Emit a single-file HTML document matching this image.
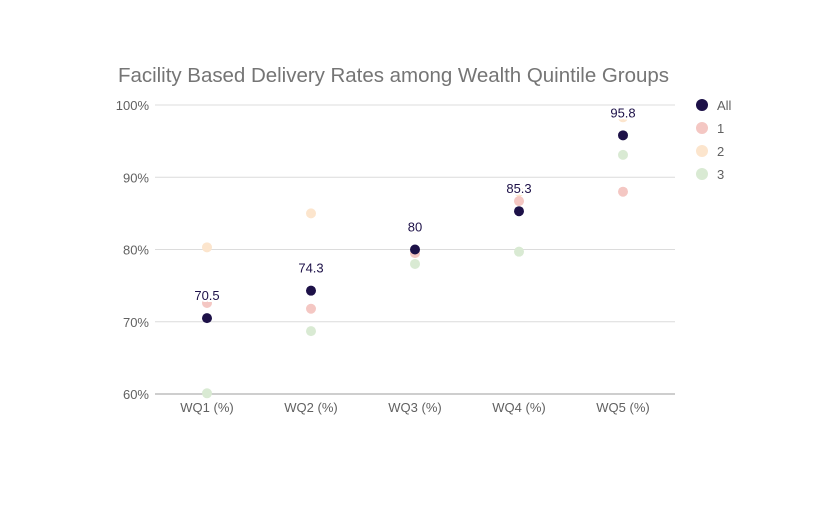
<!DOCTYPE html>
<html><head><meta charset="utf-8"><style>
body{margin:0;background:#fff;}
svg text{font-family:"Liberation Sans",sans-serif;}
</style></head><body>
<svg id="chart" width="823" height="508">
<text x="118" y="82" font-size="20.5" textLength="551" fill="#757575">Facility Based Delivery Rates among Wealth Quintile Groups</text>
<g id="grid"></g><g id="marks"></g><g id="labels"></g><g id="legend"></g>
</svg>
<script>
const categories=["WQ1 (%)","WQ2 (%)","WQ3 (%)","WQ4 (%)","WQ5 (%)"];
const seriesNames=["All","1","2","3"];
const seriesAll=[70.5,74.3,80,85.3,95.8];
const series1=[72.6,71.8,79.5,86.7,88.0];
const series2=[80.3,85.0,83.0,88.0,98.3];
const series3=[60.1,68.7,78.0,79.7,93.1];
const yTicks=[60,70,80,90,100];
const colors=["#1d1148","#f4c7c3","#fce5cd","#d9ead3"];
const ns="http://www.w3.org/2000/svg";
const x0=155,x1=675,yTop=105,yBot=394,yMin=60,yMax=100;
const y=v=>yBot-(v-yMin)/(yMax-yMin)*(yBot-yTop);
const xs=i=>x0+(x1-x0)/categories.length*(i+0.5);
function mk(p,tag,attrs){const e=document.createElementNS(ns,tag);for(const k in attrs)e.setAttribute(k,attrs[k]);p.appendChild(e);return e;}
const grid=document.getElementById('grid'),marks=document.getElementById('marks'),labels=document.getElementById('labels'),legend=document.getElementById('legend');
yTicks.forEach(t=>{
 const l=mk(grid,'line',{x1:x0,x2:x1,y1:y(t),y2:y(t),stroke:t===60?'#9e9e9e':'#dcdcdc','stroke-width':1});
 
 
 const tx=mk(grid,'text',{x:149,y:y(t)+5,'text-anchor':'end','font-size':13,fill:'#616161'});tx.textContent=t+'%';
 
 
});
categories.forEach((c,i)=>{
 const tx=mk(grid,'text',{x:xs(i),y:412,'text-anchor':'middle','font-size':13,fill:'#616161'});tx.textContent=c;
 
 
});
const all=[seriesAll,series1,series2,series3];
[2,3,1,0].forEach(s=>{
 all[s].forEach((v,i)=>{
  const c=mk(marks,'circle',{cx:xs(i),cy:y(v),r:5,fill:colors[s]});
  
  
 });
});
seriesAll.forEach((v,i)=>{
 const tx=mk(labels,'text',{x:xs(i),y:y(v)-18,'text-anchor':'middle','font-size':13,fill:'#1d1148',stroke:'#fff','stroke-width':4,'paint-order':'stroke'});
 tx.textContent=String(v);
 
 
});
seriesNames.forEach((n,i)=>{
 const c=mk(legend,'circle',{cx:702,cy:105+i*23,r:6,fill:colors[i]});
 
 
 const t=mk(legend,'text',{x:717,y:110+i*23,'font-size':13,fill:'#616161'});t.textContent=n;
 
 
});
</script>
</body></html>
